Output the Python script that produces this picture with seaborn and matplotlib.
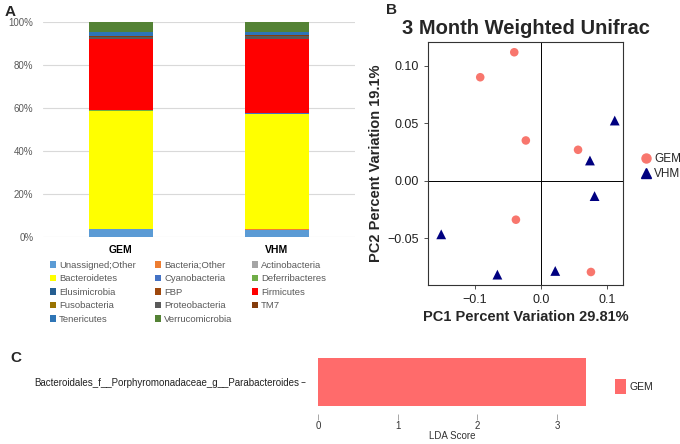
import numpy as np
import pandas as pd
import matplotlib
matplotlib.use('Agg')
import matplotlib.pyplot as plt
from matplotlib.patches import Patch
from matplotlib.lines import Line2D
import seaborn as sns

sns.set_style('white')
plt.rcParams['font.family'] = ['Liberation Sans', 'DejaVu Sans']

# --- Panel A: relative abundance per phylum (%)
groups = ['GEM', 'VHM']
phyla = ['Unassigned;Other', 'Bacteria;Other', 'Actinobacteria', 'Bacteroidetes',
         'Cyanobacteria', 'Deferribacteres', 'Elusimicrobia', 'FBP', 'Firmicutes',
         'Fusobacteria', 'Proteobacteria', 'TM7', 'Tenericutes', 'Verrucomicrobia']
gem_abund = [3.5, 0.1, 0.1, 55.0, 0.05, 0.1, 0.05, 0.05, 33.0, 0.05, 1.1, 0.4, 2.0, 4.5]
vhm_abund = [3.4, 0.1, 0.1, 53.8, 0.05, 0.1, 0.05, 0.05, 34.5, 0.05, 1.2, 0.5, 1.6, 4.5]
phylum_colors = ['#5B9BD5', '#ED7D31', '#A5A5A5', '#FFFF00', '#4472C4', '#70AD47',
                 '#255E91', '#9E480E', '#FF0000', '#997300', '#5A5A5A', '#843C0C',
                 '#2E75B6', '#548235']

# --- Panel B: PCoA coordinates
gem_pc1 = [-0.0405, -0.092, -0.023, 0.056, -0.038, 0.0755]
gem_pc2 = [0.1116, 0.0899, 0.035, 0.0269, -0.0338, -0.0792]
vhm_pc1 = [0.1115, 0.074, 0.081, -0.151, -0.066, 0.0215]
vhm_pc2 = [0.0523, 0.0176, -0.0133, -0.0465, -0.0815, -0.0783]

# --- Panel C: LEfSe
lda_features = ['Bacteroidales_f__Porphyromonadaceae_g__Parabacteroides']
lda_scores = [3.37]

W, H = 680, 444
fig = plt.figure(figsize=(W / 100, H / 100), dpi=100)


def px_axes(x0, y0, x1, y1):
    """axes from pixel box (top-left origin)"""
    return fig.add_axes([x0 / W, 1 - y1 / H, (x1 - x0) / W, (y1 - y0) / H])


# ---------------- Panel A
axA = px_axes(43, 22, 355, 237)
abund = pd.DataFrame({'GEM': gem_abund, 'VHM': vhm_abund}, index=phyla)
cum = abund.cumsum()
# draw cumulative bars from the top down so every layer shows its own segment
for ph, col in reversed(list(zip(phyla, phylum_colors))):
    sns.barplot(x=groups, y=cum.loc[ph, groups].values, color=col, width=0.405,
                linewidth=0, saturation=1, errorbar=None, ax=axA, zorder=3)
axA.set_xlim(-0.5, 1.5)
axA.set_ylim(0, 100)
axA.set_yticks(np.arange(0, 101, 20))
axA.set_yticklabels([f'{v}%' for v in range(0, 101, 20)], fontsize=7, color='#595959')
axA.set_xticks([0, 1])
axA.set_xticklabels(groups, fontsize=7.5, fontweight='bold', color='black')
axA.tick_params(axis='both', length=0, pad=6)
axA.tick_params(axis='y', pad=7)
axA.grid(axis='y', color='#D9D9D9', linewidth=0.8, zorder=0)
axA.set_axisbelow(True)
for s in axA.spines.values():
    s.set_visible(False)
axA.set_xlabel('')
axA.set_ylabel('')

handles = [Patch(facecolor=c, edgecolor='none', label=p) for p, c in zip(phyla, phylum_colors)]
order = list(range(0, 14, 3)) + list(range(1, 14, 3)) + list(range(2, 14, 3))
fig.legend([handles[i] for i in order], [phyla[i] for i in order], ncol=3,
           loc='upper left', bbox_to_anchor=(46 / W, 1 - 257 / H), frameon=False,
           fontsize=6.8, labelcolor='#595959', handlelength=0.65, handleheight=0.65,
           handletextpad=0.35, columnspacing=2.0, labelspacing=0.48, borderaxespad=0)

# ---------------- Panel B
axB = px_axes(428, 42, 623, 285)
pca = pd.DataFrame({'PC1': gem_pc1 + vhm_pc1, 'PC2': gem_pc2 + vhm_pc2,
                    'group': ['GEM'] * len(gem_pc1) + ['VHM'] * len(vhm_pc1)})
axB.axhline(0, color='black', linewidth=0.7, zorder=1)
axB.axvline(0, color='black', linewidth=0.7, zorder=1)
sns.scatterplot(data=pca, x='PC1', y='PC2', hue='group', style='group',
                markers={'GEM': 'o', 'VHM': '^'},
                palette={'GEM': '#F8766D', 'VHM': '#000080'},
                size='group', sizes={'GEM': 38, 'VHM': 50},
                linewidth=0, legend=False, ax=axB, zorder=3)
axB.set_xlim(-0.171, 0.124)
axB.set_ylim(-0.0905, 0.1205)
axB.set_xticks([-0.1, 0.0, 0.1])
axB.set_xticklabels(['\u22120.1', '0.0', '0.1'])
axB.set_yticks([-0.05, 0.0, 0.05, 0.10])
axB.set_yticklabels(['\u22120.05', '0.00', '0.05', '0.10'])
axB.tick_params(axis='both', labelsize=9, labelcolor='#222222', length=3,
                width=0.6, color='#333333', direction='out', left=True, bottom=True)
for s in axB.spines.values():
    s.set_color('#333333')
    s.set_linewidth(0.8)
axB.set_xlabel('PC1 Percent Variation 29.81%', fontsize=10.5, fontweight='bold', labelpad=3)
axB.set_ylabel('PC2 Percent Variation 19.1%', fontsize=10.5, fontweight='bold', labelpad=3)
axB.set_title('3 Month Weighted Unifrac', fontsize=14.5, fontweight='bold', pad=6)

b_handles = [Line2D([], [], marker='o', linestyle='', color='#F8766D', markersize=6.5),
             Line2D([], [], marker='^', linestyle='', color='#000080', markersize=7.5)]
fig.legend(b_handles, ['GEM', 'VHM'], loc='upper left',
           bbox_to_anchor=(634 / W, 1 - 148 / H), frameon=False, fontsize=8.5,
           handletextpad=0.1, labelspacing=0.25, borderaxespad=0, handlelength=1.2)

# ---------------- Panel C
axC = px_axes(305, 350, 600, 414)
lda = pd.DataFrame({'feature': lda_features, 'LDA': lda_scores})
sns.barplot(data=lda, x='LDA', y='feature', orient='h', color='#FF6B6B',
            saturation=1, width=0.9, linewidth=0, errorbar=None, ax=axC)
axC.set_xlim(-0.168, 3.54)
axC.set_ylim(0.6, -0.6)
axC.set_xticks([0, 1, 2, 3])
axC.tick_params(axis='x', labelsize=7, labelcolor='#333333', length=4, width=0.6,
                color='#999999', bottom=True, pad=1)
axC.tick_params(axis='y', labelsize=7, labelcolor='#222222', length=3, width=0.6,
                color='#333333', left=True, pad=1)
for s in axC.spines.values():
    s.set_visible(False)
axC.set_xlabel('LDA Score', fontsize=7, color='#333333', labelpad=0)
axC.set_ylabel('')
fig.legend([Patch(facecolor='#FF6B6B', edgecolor='none')], ['GEM'], loc='upper left',
           bbox_to_anchor=(611 / W, 1 - 375 / H), frameon=False, fontsize=7.5,
           handlelength=1.0, handleheight=1.8, handletextpad=0.4, borderaxespad=0)

# panel letters
for lab, x, y in [('A', 5, 12), ('B', 386, 10), ('C', 10, 358)]:
    fig.text(x / W, 1 - y / H, lab, fontsize=11, fontweight='bold', va='center', ha='left')

fig.savefig('out.png', dpi=100)
